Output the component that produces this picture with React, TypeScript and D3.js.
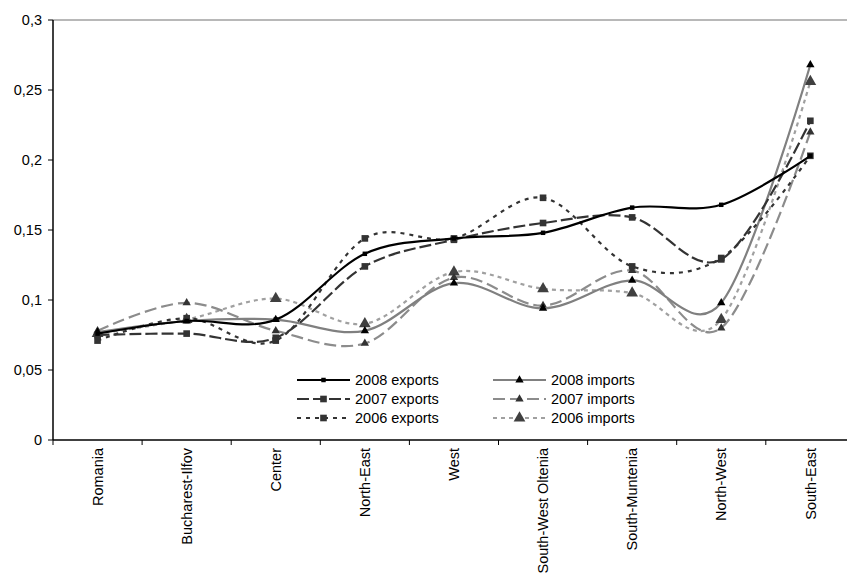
import React from 'react';
import * as d3 from 'd3';

// regions on the x axis
const categories = [
  'Romania', 'Bucharest-Ilfov', 'Center', 'North-East', 'West',
  'South-West Oltenia', 'South-Muntenia', 'North-West', 'South-East',
];

// values
const exports2008 = [0.076, 0.085, 0.086, 0.133, 0.144, 0.148, 0.166, 0.168, 0.203];
const exports2007 = [0.075, 0.076, 0.073, 0.124, 0.143, 0.155, 0.159, 0.129, 0.228];
const exports2006 = [0.071, 0.087, 0.071, 0.144, 0.144, 0.173, 0.124, 0.130, 0.203];
const imports2008 = [0.077, 0.085, 0.086, 0.078, 0.112, 0.094, 0.114, 0.098, 0.268];
const imports2007 = [0.078, 0.098, 0.078, 0.069, 0.116, 0.096, 0.121, 0.080, 0.220];
const imports2006 = [0.076, 0.086, 0.101, 0.083, 0.120, 0.108, 0.105, 0.086, 0.256];

const yTicks = [0, 0.05, 0.1, 0.15, 0.2, 0.25, 0.3];

const W = 847;
const H = 574;
const M = { left: 53, top: 20, bottom: 134 };
const BAND = 89.1;
const FONT = '"Liberation Sans", Arial, sans-serif';

type Series = {
  name: string;
  values: number[];
  stroke: string;
  dash: string;
  marker: 'square' | 'triangle';
  markerSize: number;
  markerFill: string;
};

const series: Series[] = [
  { name: '2006 imports', values: imports2006, stroke: '#a0a0a0', dash: '4,4', marker: 'triangle', markerSize: 60, markerFill: '#404040' },
  { name: '2007 imports', values: imports2007, stroke: '#8c8c8c', dash: '12,5', marker: 'triangle', markerSize: 30, markerFill: '#333' },
  { name: '2008 imports', values: imports2008, stroke: '#808080', dash: '', marker: 'triangle', markerSize: 30, markerFill: '#000' },
  { name: '2006 exports', values: exports2006, stroke: '#333', dash: '4,5', marker: 'square', markerSize: 44, markerFill: '#333' },
  { name: '2007 exports', values: exports2007, stroke: '#333', dash: '12,4', marker: 'square', markerSize: 44, markerFill: '#333' },
  { name: '2008 exports', values: exports2008, stroke: '#000', dash: '', marker: 'square', markerSize: 20, markerFill: '#000' },
];

const legendOrder = [
  ['2008 exports', '2007 exports', '2006 exports'],
  ['2008 imports', '2007 imports', '2006 imports'],
];

const fmt = (v: number) => String(v).replace('.', ',');

export default function App() {
  const x = d3.scaleBand<string>()
    .domain(categories)
    .range([M.left, M.left + BAND * categories.length]);
  const y = d3.scaleLinear().domain([0, 0.3]).range([H - M.bottom, M.top]);
  const cx = (c: string) => (x(c) ?? 0) + x.bandwidth() / 2;

  const line = d3.line<number>()
    .x((_, i) => cx(categories[i]))
    .y(d => y(d))
    .curve(d3.curveCardinal.tension(0));

  const sym = (s: Series) =>
    d3.symbol().type(s.marker === 'square' ? d3.symbolSquare : d3.symbolTriangle).size(s.markerSize)() ?? '';

  const y0 = y(0);
  const right = x.range()[1];

  return (
    <svg width={W} height={H} style={{ position: 'absolute', left: 0, top: 0, background: '#fff' }} fontFamily={FONT}>
      {/* top border of plot area */}
      <line x1={M.left} x2={right} y1={y(0.3)} y2={y(0.3)} stroke="#a0a0a0" strokeWidth={1.5} />

      {/* y axis */}
      <line x1={M.left} x2={M.left} y1={y(0.3)} y2={y0} stroke="#000" strokeWidth={1.5} />
      {yTicks.map(t => (
        <g key={t}>
          <line x1={M.left - 5} x2={M.left} y1={y(t)} y2={y(t)} stroke="#000" strokeWidth={1} />
          <text x={42} y={y(t)} dy="0.36em" textAnchor="end" fontSize={14.5} fill="#000">{fmt(t)}</text>
        </g>
      ))}

      {/* x axis */}
      <line x1={M.left} x2={right} y1={y0} y2={y0} stroke="#000" strokeWidth={1.5} />
      {categories.map(c => (
        <line key={'t' + c} x1={x(c)} x2={x(c)} y1={y0} y2={y0 + 5} stroke="#000" strokeWidth={1} />
      ))}
      {categories.map(c => (
        <text key={'l' + c} transform={`translate(${cx(c)},${y0 + 8}) rotate(-90)`} dy="0.36em"
          textAnchor="end" fontSize={14.5} fill="#000">{c}</text>
      ))}

      {/* series */}
      {series.map(s => (
        <g key={s.name}>
          <path d={line(s.values) ?? ''} fill="none" stroke={s.stroke} strokeWidth={2.2}
            strokeDasharray={s.dash || undefined} />
          {s.values.map((v, i) => (
            <path key={i} d={sym(s)} transform={`translate(${cx(categories[i])},${y(v)})`} fill={s.markerFill} />
          ))}
        </g>
      ))}

      {/* legend */}
      {legendOrder.map((col, ci) =>
        col.map((name, ri) => {
          const s = series.find(d => d.name === name)!;
          const lx = 297 + ci * 196;
          const ly = 380 + ri * 19;
          return (
            <g key={name}>
              <line x1={lx} x2={lx + 53} y1={ly} y2={ly} stroke={s.stroke} strokeWidth={2.2}
                strokeDasharray={s.dash || undefined} />
              <path d={sym(s)} transform={`translate(${lx + 26.5},${ly})`} fill={s.markerFill} />
              <text x={lx + 58} y={ly} dy="0.36em" fontSize={14.5} fill="#000">{name}</text>
            </g>
          );
        })
      )}
    </svg>
  );
}
